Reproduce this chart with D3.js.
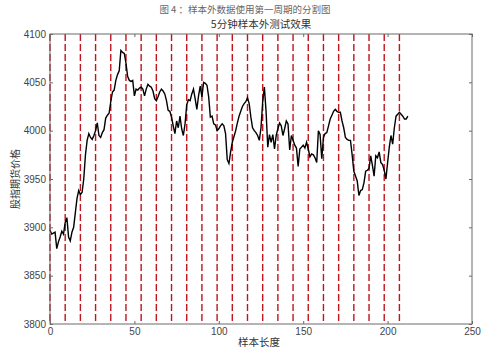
<!DOCTYPE html>
<html>
<head>
<meta charset="utf-8">
<script src="https://cdn.jsdelivr.net/npm/d3@7"></script>
<style>
  body { margin: 0; background: #fff; }
  text { font-family: "Noto Sans CJK SC", "DejaVu Sans", sans-serif; }
</style>
</head>
<body>
<div id="chart"></div>
<script>
// 5分钟样本外价格 (index = 样本序号)
const prices = [
  3897, 3893, 3894, 3895, 3878, 3885, 3890, 3896, 3893, 3905,
  3910, 3890, 3886, 3895, 3900, 3915, 3930, 3938, 3934, 3936,
  3950, 3975, 3990, 3997, 3993, 3991, 3995, 4000, 4008, 3995,
  3993, 3998, 4001, 4013, 4016, 4018, 4030, 4040, 4042, 4052,
  4058, 4062, 4083, 4081, 4080, 4070, 4056, 4052, 4051, 4052,
  4036, 4043, 4042, 4044, 4045, 4043, 4036, 4043, 4048, 4046,
  4045, 4041, 4033, 4031, 4035, 4040, 4043, 4041, 4038, 4031,
  4021, 4020, 4014, 4005, 3997, 4010, 4003, 4015, 4002, 3995,
  4007, 4027, 4032, 4031, 4038, 4043, 4033, 4022, 4036, 4046,
  4035, 4050, 4049, 4047, 4035, 4014, 4015, 4007, 4006, 4000,
  4002, 4005, 4007, 4005, 3997, 3970, 3966, 3978, 3988, 3994,
  4000, 4008, 4015, 4020, 4025, 4028, 4030, 4034, 4028, 4014,
  4003, 4000, 3998, 3995, 3990, 4003, 4030, 4045, 4020, 3983,
  3996, 3988, 3996, 3981, 3995, 4002, 4008, 4005, 3995, 4002,
  4010, 4007, 3980, 3995, 3990, 3985, 3982, 3963, 3981, 3983,
  3985, 3982, 3988, 3981, 3973, 3976, 3975, 3972, 3967, 4000,
  3996, 3971, 3993, 3997, 3998, 4005, 4012, 4016, 4020, 4022,
  4020, 4019, 4019, 4010, 4003, 3993, 3991, 3990, 3990, 3975,
  3958, 3953, 3948, 3933, 3938, 3939, 3946, 3958, 3959, 3961,
  3974, 3964, 3953, 3974, 3972, 3978, 3967, 3965, 3959, 3950,
  3967, 3983, 3995, 3986, 4003, 4015, 4017, 4019, 4017, 4015,
  4012, 4012, 4015
];
// 分割线位置
const splits = [0, 9, 18, 27, 36, 45, 54, 63, 72, 81, 90, 99, 108, 117,
  126, 135, 144, 153, 162, 171, 180, 189, 198, 207];
const xTicks = [0, 50, 100, 150, 200, 250];
const yTicks = [3800, 3850, 3900, 3950, 4000, 4050, 4100];

const W = 499, H = 353;
const margin = { top: 34, right: 27, bottom: 29, left: 50 };
const width = W - margin.left - margin.right,
      height = H - margin.top - margin.bottom;

const svg = d3.select("#chart").append("svg")
  .attr("width", W).attr("height", H);

const g = svg.append("g")
  .attr("transform", `translate(${margin.left}, ${margin.top})`);

const xScale = d3.scaleLinear().domain([0, 250]).range([0, width]);
const yScale = d3.scaleLinear().domain([3800, 4100]).range([height, 0]);

// 分割线
g.selectAll(".split")
  .data(splits)
  .enter().append("line")
  .attr("class", "split")
  .attr("x1", d => xScale(d)).attr("x2", d => xScale(d))
  .attr("y1", 0).attr("y2", height)
  .style("stroke", "#c0141e")
  .style("stroke-width", 1.4)
  .style("stroke-dasharray", "7,3");

const line = d3.line()
  .x((d, i) => xScale(i))
  .y(d => yScale(d));

g.append("path")
  .datum(prices)
  .attr("d", line)
  .style("fill", "none")
  .style("stroke", "#000")
  .style("stroke-width", 1.4);

// axes, MATLAB style: ticks inside on all sides
const axisColor = "#6b6b6b";
const fmt = d3.format("d");

function styleAxis(sel) {
  sel.select(".domain").remove();
  sel.selectAll(".tick line").style("stroke", axisColor);
  sel.selectAll("text")
    .style("font-family", "'Liberation Sans', Arial, sans-serif")
    .style("font-size", "10px").style("fill", "#444");
}

g.append("g").attr("transform", `translate(0,${height})`)
  .call(d3.axisBottom(xScale).tickValues(xTicks).tickFormat(fmt).tickSizeInner(-3).tickSizeOuter(0).tickPadding(4))
  .call(styleAxis);
g.append("g")
  .call(d3.axisTop(xScale).tickValues(xTicks).tickFormat("").tickSizeInner(-3).tickSizeOuter(0))
  .call(styleAxis);
g.append("g")
  .call(d3.axisLeft(yScale).tickValues(yTicks).tickFormat(fmt).tickSizeInner(-3).tickSizeOuter(0).tickPadding(4))
  .call(styleAxis);
g.append("g").attr("transform", `translate(${width},0)`)
  .call(d3.axisRight(yScale).tickValues(yTicks).tickFormat("").tickSizeInner(-3).tickSizeOuter(0))
  .call(styleAxis);

g.append("rect")
  .attr("width", width).attr("height", height)
  .style("fill", "none")
  .style("stroke", axisColor)
  .style("stroke-width", 1);

// titles
svg.append("text")
  .attr("x", 245).attr("y", 13)
  .attr("text-anchor", "middle")
  .style("font-size", "9.5px").style("fill", "#666")
  .text("图 4 ：样本外数据使用第一周期的分割图");

svg.append("text")
  .attr("x", margin.left + width / 2).attr("y", 28)
  .attr("text-anchor", "middle")
  .style("font-size", "10.5px").style("fill", "#333")
  .text("5分钟样本外测试效果");

svg.append("text")
  .attr("x", margin.left + width / 2 - 2).attr("y", 346)
  .attr("text-anchor", "middle")
  .style("font-size", "10.5px").style("fill", "#333")
  .text("样本长度");

svg.append("text")
  .attr("transform", `translate(19, ${margin.top + height / 2}) rotate(-90)`)
  .attr("text-anchor", "middle")
  .style("font-size", "10px").style("fill", "#333")
  .text("股指期货价格");
</script>
</body>
</html>
